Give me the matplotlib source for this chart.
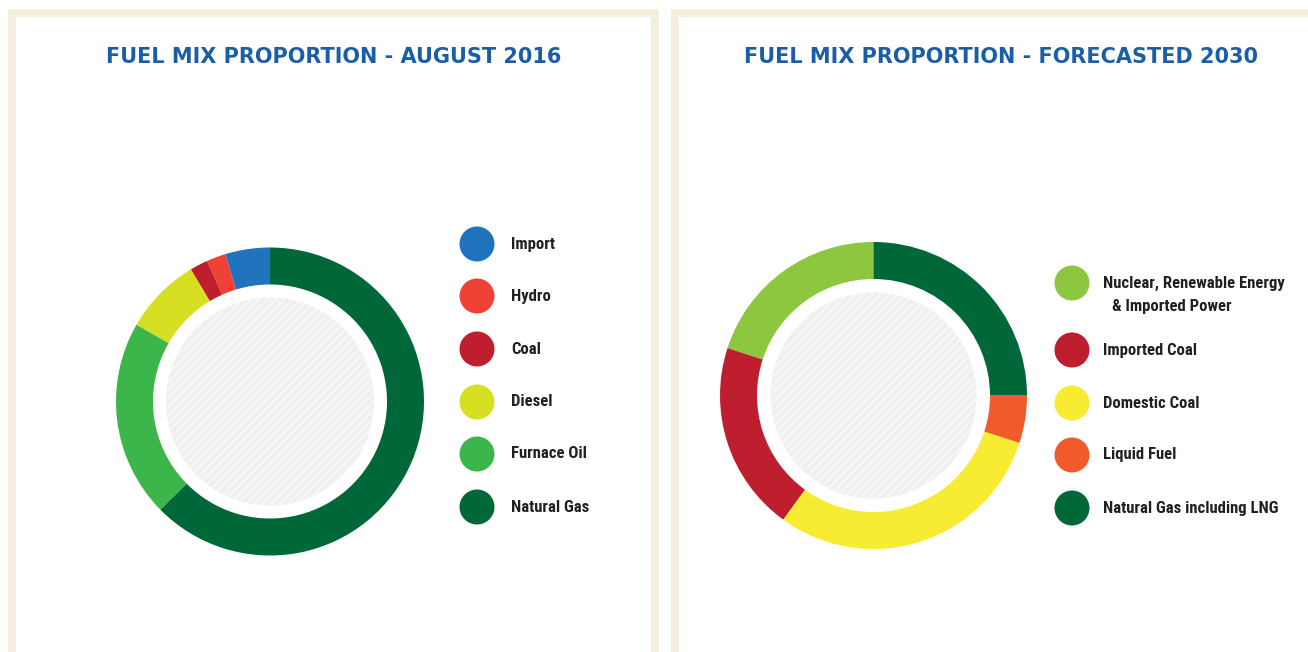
import matplotlib.pyplot as plt
import matplotlib.patches as patches

W, H = 1308, 652

# data
labels_2016 = ['Import', 'Hydro', 'Coal', 'Diesel', 'Furnace Oil', 'Natural Gas']
share_2016 = [4.7, 2.0, 1.9, 8.1, 20.7, 62.6]
colors_2016 = ['#1f74bd', '#ef4136', '#be1e2d', '#d7df23', '#3cb54a', '#006838']

labels_2030 = ['Nuclear, Renewable Energy\n& Imported Power', 'Imported Coal',
               'Domestic Coal', 'Liquid Fuel', 'Natural Gas including LNG']
share_2030 = [20, 20, 30, 5, 25]
colors_2030 = ['#8dc63f', '#be1e2d', '#f7ec31', '#f15a2a', '#006838']

titles = ['FUEL MIX PROPORTION - AUGUST 2016', 'FUEL MIX PROPORTION - FORECASTED 2030']

beige = '#f3efdf'
title_blue = '#1a5ea8'
ink = '#231f20'
plt.rcParams['hatch.linewidth'] = 1.4

fig = plt.figure(figsize=(W / 100, H / 100), dpi=100)
ax = fig.add_axes([0, 0, 1, 1])


def fy(y):
    return H - y


# panel frames
for x0, x1 in [(8, 659), (671, W + 20)]:
    ax.add_patch(patches.Rectangle((x0, fy(17)), x1 - x0, 8, color=beige, lw=0))
    ax.add_patch(patches.Rectangle((x0, -10), 8, fy(9) + 10, color=beige, lw=0))
    ax.add_patch(patches.Rectangle((x1 - 8, -10), 8, fy(9) + 10, color=beige, lw=0))

# donuts
donuts = [
    ((270, fy(401.5)), 154, 104, share_2016, colors_2016),
    ((873.5, fy(395.5)), 153.5, 103, share_2030, colors_2030),
]
for center, r, r_in, vals, cols in donuts:
    ax.pie(vals, colors=cols, center=center, radius=r, startangle=90,
           counterclock=True, wedgeprops=dict(width=37, lw=0))
    ax.add_patch(patches.Circle(center, r_in, facecolor='#efefef',
                                edgecolor='#f8f8f8', hatch='////', lw=0))

# titles
title_font = dict(family=['DejaVu Sans'], fontweight='bold',
                  fontsize=15, color=title_blue, ha='center', va='center')
ax.text(334, fy(57), titles[0], **title_font)
ax.text(1000.5, fy(57), titles[1], **title_font)

# legends
leg_font = dict(family=['Roboto Condensed', 'Open Sans Condensed', 'DejaVu Sans'],
                fontstretch='condensed', fontweight='bold',
                fontsize=12, color=ink, va='center', ha='left')
ys_2016 = [244, 296, 349, 402, 454, 507]
for lab, col, y in zip(labels_2016, colors_2016, ys_2016):
    ax.add_patch(patches.Circle((477, fy(y)), 17.5, color=col, lw=0))
    ax.text(511, fy(y), lab, **leg_font)

ys_2030 = [283, 350, 403, 455, 508]
for lab, col, y in zip(labels_2030, colors_2030, ys_2030):
    ax.add_patch(patches.Circle((1072, fy(y)), 17.5, color=col, lw=0))
    lines = lab.split('\n')
    ax.text(1103, fy(y), lines[0], **leg_font)
    if len(lines) > 1:
        ax.text(1112, fy(y + 24), lines[1], **leg_font)

ax.set_xlim(0, W)
ax.set_ylim(0, H)
ax.set_aspect('equal')
ax.axis('off')

plt.savefig('out.png', dpi=100)
